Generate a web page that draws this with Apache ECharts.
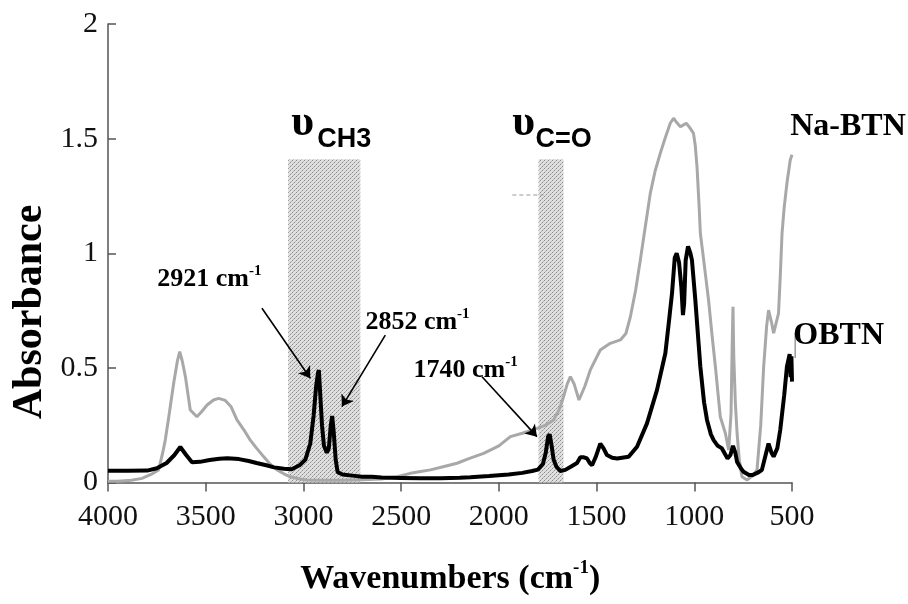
<!DOCTYPE html>
<html><head><meta charset="utf-8">
<script src="https://cdn.jsdelivr.net/npm/echarts@6/dist/echarts.min.js"></script>
<style>html,body{margin:0;padding:0;background:#fff}#c{width:908px;height:604px}</style>
</head><body><div id="c"></div>
<script>
// ---- data (wavenumber cm^-1, absorbance) ----
const obtnWave = [4000,3900,3800,3750,3700,3660,3630,3600,3570,3530,3480,3430,3390,3330,3280,3240,3190,3150,3100,3060,3020,2990,2965,2948,2935,2925,2921,2915,2905,2895,2880,2870,2860,2853,2845,2835,2825,2800,2750,2700,2650,2600,2500,2400,2300,2200,2146,2050,1950,1880,1830,1800,1775,1760,1748,1740,1730,1720,1705,1685,1660,1630,1600,1583,1565,1549,1535,1523,1505,1481,1465,1447,1420,1395,1336,1293,1242,1191,1148,1130,1114,1100,1090,1078,1066,1058,1052,1044,1032,1020,1012,995,969,950,935,915,901,880,860,840,830,815,802,790,781,760,748,720,700,670,654,635,620,605,594,575,560,540,526,512,507,503,500];
const obtnAbs  = [0.051,0.051,0.052,0.062,0.085,0.12,0.155,0.12,0.088,0.09,0.098,0.104,0.106,0.102,0.094,0.085,0.075,0.066,0.06,0.058,0.075,0.1,0.17,0.29,0.42,0.48,0.49,0.4,0.25,0.16,0.13,0.15,0.25,0.29,0.22,0.1,0.045,0.035,0.03,0.025,0.025,0.022,0.02,0.018,0.019,0.021,0.023,0.028,0.035,0.042,0.05,0.056,0.08,0.13,0.2,0.21,0.16,0.1,0.068,0.05,0.055,0.07,0.085,0.11,0.11,0.105,0.085,0.075,0.11,0.17,0.15,0.12,0.108,0.105,0.112,0.156,0.258,0.403,0.564,0.7,0.825,0.98,1.0,0.96,0.85,0.73,0.78,0.97,1.03,1.0,0.97,0.8,0.505,0.35,0.273,0.21,0.185,0.16,0.15,0.12,0.105,0.12,0.16,0.13,0.09,0.06,0.047,0.033,0.033,0.045,0.055,0.12,0.17,0.13,0.113,0.15,0.23,0.38,0.505,0.56,0.46,0.55,0.44];
const nabtnWave = [4000,3950,3880,3826,3780,3741,3720,3707,3690,3664,3645,3633,3620,3604,3590,3579,3545,3520,3493,3460,3434,3400,3370,3340,3305,3272,3240,3204,3170,3135,3100,3067,3020,2982,2900,2800,2700,2600,2520,2453,2400,2350,2280,2214,2150,2078,2000,1941,1880,1805,1760,1720,1690,1669,1650,1634,1615,1590,1560,1532,1481,1430,1378,1350,1327,1300,1276,1250,1225,1200,1174,1150,1123,1106,1090,1071,1055,1041,1025,1004,995,986,975,969,952,927,910,892,880,867,850,841,824,812,806,802,798,790,781,770,756,730,700,679,660,645,630,620,605,594,580,569,560,551,540,526,509,500];
const nabtnAbs  = [0.005,0.005,0.01,0.018,0.035,0.055,0.13,0.185,0.28,0.433,0.53,0.571,0.53,0.462,0.38,0.316,0.287,0.31,0.338,0.36,0.367,0.358,0.33,0.273,0.23,0.185,0.15,0.113,0.08,0.055,0.038,0.025,0.015,0.011,0.01,0.01,0.012,0.015,0.025,0.04,0.048,0.055,0.07,0.084,0.105,0.127,0.16,0.2,0.215,0.236,0.25,0.273,0.32,0.374,0.43,0.462,0.43,0.36,0.42,0.491,0.578,0.607,0.622,0.65,0.723,0.84,0.971,1.12,1.262,1.36,1.436,1.5,1.567,1.589,1.57,1.552,1.56,1.567,1.55,1.523,1.47,1.377,1.2,1.087,0.971,0.796,0.65,0.505,0.4,0.287,0.24,0.215,0.142,0.3,0.6,0.767,0.55,0.35,0.215,0.1,0.025,0.011,0.03,0.055,0.25,0.505,0.68,0.752,0.7,0.651,0.7,0.738,0.9,1.087,1.2,1.305,1.407,1.43];
const xMin = 500, xMax = 4000, xStep = 500;
const yMin = 0, yMax = 2, yStep = 0.5;
const bandRanges = [[3078, 2709], [1797, 1669]];
const bandTop = 1.41;
const arrowPairs = [[[3212, 0.76], [2965, 0.455]], [[2581, 0.643], [2803, 0.331]], [[2086, 0.4615], [1805, 0.20]]];
const peakLabels = [{num: '2921', at: [3748, 0.853]}, {num: '2852', at: [2683, 0.665]}, {num: '1740', at: [2437, 0.456]}];

const serif = '"Liberation Serif","Times New Roman",serif';
const sans = '"Liberation Sans",Arial,sans-serif';

// hatch pattern for shaded bands
const pc = document.createElement('canvas'); pc.width = 4; pc.height = 4;
const g = pc.getContext('2d');
g.fillStyle = '#e0e0e0'; g.fillRect(0, 0, 4, 4);
g.fillStyle = '#8c8c8c'; g.fillRect(0, 0, 1, 1); g.fillRect(2, 2, 1, 1);
g.fillStyle = '#b4b4b4'; g.fillRect(1, 3, 1, 1); g.fillRect(3, 1, 1, 1);

const chart = echarts.init(document.getElementById('c'), null, {renderer: 'canvas'});
chart.setOption({
  animation: false,
  backgroundColor: '#fff',
  grid: {left: 108, right: 116, top: 24, bottom: 121.5},
  xAxis: {
    type: 'value', inverse: true, min: xMin, max: xMax, interval: xStep,
    axisLine: {lineStyle: {color: '#555', width: 1.5}},
    axisTick: {inside: false, length: 9, lineStyle: {color: '#555', width: 1.5}},
    axisLabel: {margin: 20, color: '#111', fontSize: 30, fontFamily: serif, formatter: v => String(v)},
    splitLine: {show: false}
  },
  yAxis: {
    type: 'value', min: yMin, max: yMax, interval: yStep,
    axisLine: {show: true, lineStyle: {color: '#555', width: 1.5}},
    axisTick: {show: true, inside: true, length: 8, lineStyle: {color: '#555', width: 1.5}},
    axisLabel: {margin: 10, color: '#111', fontSize: 30, fontFamily: serif, formatter: v => String(v)},
    splitLine: {show: false}
  },
  series: [
    {type: 'line', name: 'bands', data: [], z: 1, silent: true,
     markArea: {silent: true, itemStyle: {color: {image: pc, repeat: 'repeat'}},
       data: bandRanges.map(b => [{xAxis: b[0], yAxis: 0}, {xAxis: b[1], yAxis: bandTop}])}},
    {type: 'line', name: 'Na-BTN', data: nabtnWave.map((w, i) => [w, nabtnAbs[i]]),
     showSymbol: false, z: 2, lineStyle: {color: '#a8a8a8', width: 3}},
    {type: 'line', name: 'OBTN', data: obtnWave.map((w, i) => [w, obtnAbs[i]]),
     showSymbol: false, z: 3, lineStyle: {color: '#000', width: 4},
     markLine: {silent: true, symbol: ['none', 'arrow'], symbolSize: 11, label: {show: false},
       lineStyle: {color: '#000', width: 1.6, type: 'solid'},
       emphasis: {disabled: true},
       data: arrowPairs.map(p => [{coord: p[0]}, {coord: p[1]}])}}
  ]
});

const P = (w, a) => chart.convertToPixel({gridIndex: 0}, [w, a]);
const els = [];
function baseText(pt, text, font, fs, align) {
  return {type: 'text', z: 10, style: {text: text, x: pt[0], y: pt[1] - 0.33 * fs, font: font, fill: '#000', align: align || 'left', verticalAlign: 'middle'}};
}
peakLabels.forEach(l => {
  const p = P(l.at[0], l.at[1]);
  els.push({type: 'text', z: 10, style: {
    text: '{a|' + l.num + ' cm}{s|-1}', x: p[0], y: p[1] - 9, align: 'left', verticalAlign: 'middle',
    rich: {a: {font: 'bold 26px ' + serif, fill: '#000', lineHeight: 28, verticalAlign: 'bottom'},
           s: {font: 'bold 15px ' + serif, fill: '#000', lineHeight: 28, verticalAlign: 'top'}}}});
});
els.push(baseText(P(509, 1.507), 'Na-BTN', 'bold 32px ' + serif, 32));
els.push(baseText(P(493, 0.593), 'OBTN', 'bold 32px ' + serif, 32));
els.push(baseText(P(3062, 1.50), 'υ', 'bold 44px ' + serif, 44));
els.push(baseText(P(2929, 1.459), 'CH3', 'bold 27px ' + sans, 27));
els.push(baseText(P(1931, 1.50), 'υ', 'bold 44px ' + serif, 44));
els.push(baseText(P(1813, 1.459), 'C=O', 'bold 27px ' + sans, 27));
// connector for OBTN label and small dash
const c1 = P(484, 0.652), c2 = P(484, 0.543);
els.push({type: 'line', z: 9, shape: {x1: c1[0], y1: c1[1], x2: c2[0], y2: c2[1]}, style: {stroke: '#666', lineWidth: 1}});
const d1 = P(1931, 1.254), d2 = P(1772, 1.254);
els.push({type: 'line', z: 9, shape: {x1: d1[0], y1: d1[1], x2: d2[0], y2: d2[1]}, style: {stroke: '#999', lineWidth: 1.2, lineDash: [4, 3]}});
// axis titles
const yt = P(4397, 0.744);
els.push({type: 'text', z: 10, x: yt[0], y: yt[1], rotation: Math.PI / 2,
  style: {text: 'Absorbance', x: 0, y: 0, font: 'bold 42px ' + serif, fill: '#000', align: 'center', verticalAlign: 'middle'}});
const xt = P(2249, -0.415);
els.push({type: 'text', z: 10, style: {
  text: '{a|Wavenumbers (cm}{s|-1}{a|)}', x: xt[0], y: xt[1], align: 'center', verticalAlign: 'middle',
  rich: {a: {font: 'bold 34px ' + serif, fill: '#000', lineHeight: 38, verticalAlign: 'bottom'},
         s: {font: 'bold 19px ' + serif, fill: '#000', lineHeight: 38, verticalAlign: 'top'}}}});
chart.setOption({graphic: {elements: els}});
</script></body></html>
